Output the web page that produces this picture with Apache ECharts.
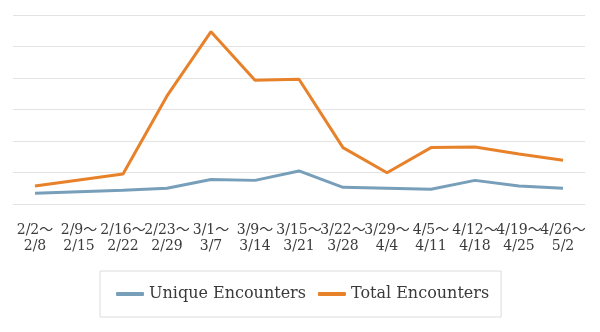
<!DOCTYPE html>
<html>
<head>
<meta charset="utf-8">
<style>
  html, body { margin: 0; padding: 0; background: #fff; }
  #chart { width: 600px; height: 332px; }
</style>
<script src="https://cdn.jsdelivr.net/npm/echarts@6/dist/echarts.min.js"></script>
</head>
<body>
<div id="chart"></div>
<script>
// Weekly periods
const weeks = [
  '2/2～\n2/8', '2/9～\n2/15', '2/16～\n2/22', '2/23～\n2/29', '3/1～\n3/7',
  '3/9～\n3/14', '3/15～\n3/21', '3/22～\n3/28', '3/29～\n4/4', '4/5～\n4/11',
  '4/12～\n4/18', '4/19～\n4/25', '4/26～\n5/2'
];
const uniqueEncounters = [34, 39, 44, 50, 78, 75, 105, 53, 50, 47, 75, 57, 50];
const totalEncounters = [57, 76, 95, 343, 547, 393, 396, 179, 99, 179, 181, 159, 139];

const serif = '"DejaVu Serif", "Liberation Serif", "Noto Sans CJK JP", serif';

const chart = echarts.init(document.getElementById('chart'));
chart.setOption({
  animation: false,
  textStyle: { fontFamily: serif },
  grid: { left: 13, right: 15, top: 15, bottom: 128, containLabel: false },
  legend: {
    left: 100, top: 271,
    padding: [15, 12, 15, 16],
    borderColor: '#dcdcdc', borderWidth: 1,
    itemWidth: 28, itemHeight: 4, itemGap: 12,
    icon: 'roundRect',
    textStyle: { fontFamily: serif, fontSize: 16, color: '#3a3a3a' },
    data: ['Unique Encounters', 'Total Encounters']
  },
  xAxis: {
    type: 'category',
    data: weeks,
    boundaryGap: true,
    axisLine: { show: false },
    axisTick: { show: false },
    axisLabel: {
      interval: 0, margin: 18,
      fontFamily: serif, fontSize: 14, lineHeight: 16, color: '#3a3a3a'
    }
  },
  yAxis: {
    type: 'value',
    min: 0, max: 600, interval: 100,
    axisLabel: { show: false },
    axisLine: { show: false },
    axisTick: { show: false },
    splitLine: { lineStyle: { color: '#e3e3e3', width: 1 } }
  },
  series: [
    {
      name: 'Unique Encounters', type: 'line', data: uniqueEncounters,
      symbol: 'none', color: '#789fba',
      lineStyle: { width: 3, color: '#789fba' }
    },
    {
      name: 'Total Encounters', type: 'line', data: totalEncounters,
      symbol: 'none', color: '#e8822a',
      lineStyle: { width: 3, color: '#e8822a' }
    }
  ]
});
</script>
</body>
</html>
